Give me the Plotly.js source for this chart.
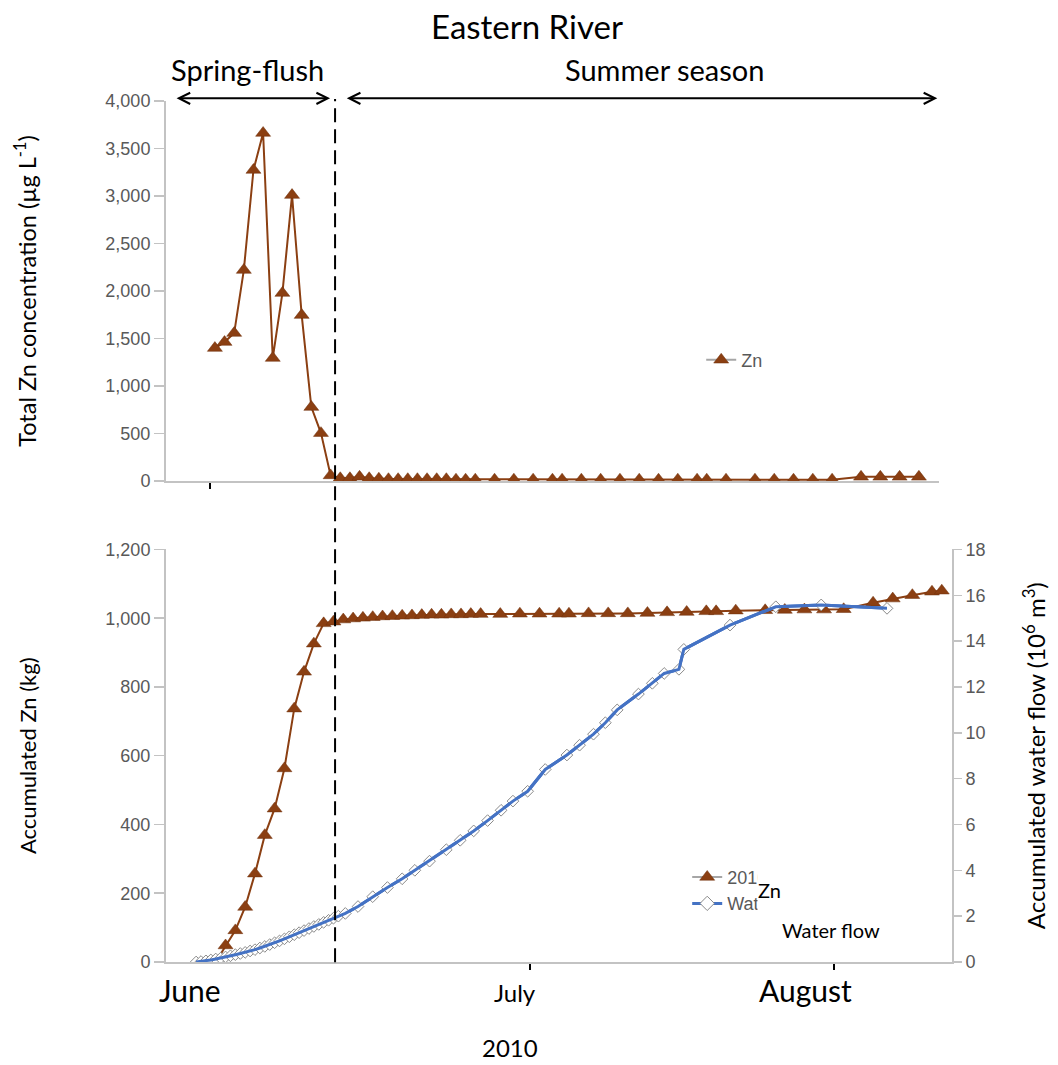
<!DOCTYPE html>
<html>
<head>
<meta charset="utf-8">
<script src="https://cdn.plot.ly/plotly-3.0.1.min.js"></script>
<style>html,body{margin:0;padding:0;background:#fff;}#chart{width:1058px;height:1065px;}</style>
</head>
<body>
<div id="chart"></div>
<script>
// ---------- data ----------
const sampleDates = [
  '2010-05-30','2010-05-31','2010-06-01','2010-06-02','2010-06-03','2010-06-04','2010-06-05',
  '2010-06-06','2010-06-07','2010-06-08','2010-06-09','2010-06-10','2010-06-11',
  '2010-06-12','2010-06-13','2010-06-14','2010-06-15','2010-06-16','2010-06-17','2010-06-18',
  '2010-06-19','2010-06-20','2010-06-21','2010-06-22','2010-06-23','2010-06-24','2010-06-25','2010-06-26',
  '2010-06-28','2010-06-30','2010-07-02','2010-07-04','2010-07-05','2010-07-07','2010-07-09',
  '2010-07-11','2010-07-13','2010-07-15','2010-07-17','2010-07-19','2010-07-20','2010-07-22',
  '2010-07-25','2010-07-27','2010-07-29','2010-07-31','2010-08-02',
  '2010-08-05','2010-08-07','2010-08-09','2010-08-11','2010-08-12'
];
// total Zn concentration (µg/L) – no sample on the last date
const concDates = sampleDates.slice(0, 51);
const znConc = [
  1400,1463,1558,2221,3274,3663,1295,1979,3010,1747,779,505,60,
  30,30,45,30,25,20,20,20,20,20,20,20,15,15,15,
  15,15,15,15,15,15,15,15,15,15,15,15,15,15,15,15,15,15,15,
  45,45,45,45
];
// accumulated Zn (kg)
const znLoad = [
  0,48,92,160,257,369,446,563,737,844,926,985,990,
  996,999,1001,1003,1005,1006,1007,1008,1009,1010,1010,1011,1011,1012,1012,
  1012,1013,1013,1013,1013,1014,1014,1014,1015,1017,1018,1020,1020,1022,1023,1024,1025,1025,1026,
  1045,1057,1067,1077,1080
];
// accumulated water flow (10^6 m3)
const flowDates = [
  '2010-05-28 00:00','2010-05-28 12:00','2010-05-29 00:00','2010-05-29 12:00','2010-05-30 00:00',
  '2010-05-30 12:00','2010-05-31 00:00','2010-05-31 12:00','2010-06-01 00:00','2010-06-01 12:00',
  '2010-06-02 00:00','2010-06-02 12:00','2010-06-03 00:00','2010-06-03 12:00','2010-06-04 00:00',
  '2010-06-04 12:00','2010-06-05 00:00','2010-06-05 12:00','2010-06-06 00:00','2010-06-06 12:00',
  '2010-06-07 00:00','2010-06-07 12:00','2010-06-08 00:00','2010-06-08 12:00','2010-06-09 00:00',
  '2010-06-09 12:00','2010-06-10 00:00','2010-06-10 12:00','2010-06-11 00:00','2010-06-11 12:00',
  '2010-06-12 05:00','2010-06-13 12:00','2010-06-15 00:00','2010-06-16 12:00','2010-06-18 00:00',
  '2010-06-19 07:00','2010-06-20 19:00','2010-06-22 12:00','2010-06-23 22:00','2010-06-25 07:00',
  '2010-06-26 17:00','2010-06-28 02:00','2010-06-29 07:00','2010-06-30 19:00','2010-07-02 14:00',
  '2010-07-04 19:00','2010-07-06 02:00','2010-07-07 12:00','2010-07-08 17:00','2010-07-09 22:00',
  '2010-07-12 02:00','2010-07-13 12:00','2010-07-14 17:00','2010-07-16 05:00','2010-07-16 17:00',
  '2010-07-21 10:00','2010-07-26 02:00','2010-07-30 17:00','2010-08-06 10:00'
];
const waterFlow = [
  0,0.02,0.05,0.09,0.13,0.17,0.22,0.27,0.32,0.37,
  0.42,0.48,0.54,0.61,0.68,0.76,0.84,0.92,1.01,1.10,
  1.19,1.28,1.37,1.46,1.55,1.64,1.73,1.82,1.91,2.00,
  2.12,2.42,2.85,3.25,3.63,4.00,4.40,4.90,5.31,5.72,
  6.17,6.62,7.02,7.45,8.40,9.03,9.46,9.94,10.44,11.00,
  11.69,12.16,12.59,12.77,13.64,14.70,15.50,15.58,15.43
];
const monthLabels = ['June','July','August'];
const yearLabel = '2010';
const topTicks = [0,500,1000,1500,2000,2500,3000,3500,4000];
const periodLabels = ['Spring-flush','Summer season'];

// ---------- styling ----------
const BROWN = '#8B3F12';
const BLUE = '#4472C4';
const AXIS_GRAY = '#c3c3c3';
const TICK_FONT = {family:'Liberation Sans, Arial, sans-serif', size:18, color:'#595959'};
const TXT = 'Lato, sans-serif';
const xRange = ['2010-05-24 22:20','2010-08-13 01:00'];

// plot area geometry (px)
const W = 1058, H = 1065;
const L = 166, R = 951.7, T = 101, B = 961.7;
const px = x => (x - L) / (R - L);
const py = y => (B - y) / (B - T);

const triMarker = {symbol:'triangle-up', size:13, color:BROWN, line:{color:'#6e300c', width:0.5}};

const traces = [
  {x: concDates, y: znConc, xaxis:'x', yaxis:'y', type:'scatter', mode:'lines+markers', name:'Zn',
   showlegend:false, line:{color:BROWN, width:2}, marker:triMarker},
  {x: sampleDates, y: znLoad, xaxis:'x2', yaxis:'y2', type:'scatter', mode:'lines+markers', name:'2010 Zn',
   showlegend:false, line:{color:BROWN, width:2}, marker:triMarker},
  {x: flowDates, y: waterFlow, xaxis:'x2', yaxis:'y3', type:'scatter', mode:'lines+markers', name:'Water flow',
   showlegend:false, line:{color:BLUE, width:3}, marker:{symbol:'diamond', size:9, color:'#ffffff', line:{color:'#8a8a8a', width:1}}},
  // the flow line is drawn again on top of its markers, as in the original
  {x: flowDates, y: waterFlow, xaxis:'x2', yaxis:'y3', type:'scatter', mode:'lines', name:'Water flow line',
   showlegend:false, hoverinfo:'skip', line:{color:BLUE, width:3}},
  // legend keys (grey key line, as in the original legends)
  {x:[null], y:[null], xaxis:'x', yaxis:'y', type:'scatter', mode:'lines+markers', name:'Zn',
   legend:'legend', showlegend:true, line:{color:'#a6a6a6', width:2}, marker:triMarker},
  {x:[null], y:[null], xaxis:'x2', yaxis:'y2', type:'scatter', mode:'lines+markers', name:'2010 Zn',
   legend:'legend2', showlegend:true, line:{color:'#a6a6a6', width:2}, marker:triMarker},
  {x:[null], y:[null], xaxis:'x2', yaxis:'y3', type:'scatter', mode:'lines+markers', name:'Water flow',
   legend:'legend2', showlegend:true, line:{color:BLUE, width:3}, marker:{symbol:'diamond', size:11, color:'#ffffff', line:{color:'#8a8a8a', width:1}}}
];

const axisCommon = {showgrid:false, zeroline:false, showline:true, linecolor:AXIS_GRAY, linewidth:2};

const layout = {
  width: W, height: H,
  showlegend: true,
  margin:{l:L, r:W-R, t:T, b:H-B, pad:0},
  paper_bgcolor:'#fff', plot_bgcolor:'#fff',
  font:{family:TXT, color:'#000'},
  title:{text:'Eastern River', xref:'container', x:527/W, xanchor:'center', yref:'container', y:1-27/H, yanchor:'middle',
         font:{family:TXT, size:33, color:'#000'}},
  xaxis: Object.assign({}, axisCommon, {type:'date', domain:[0,(938.3-L)/(R-L)], anchor:'y', range:xRange,
          tickvals:['2010-05-29 12:00'], ticks:'outside', ticklen:6, tickwidth:2, tickcolor:'#000', showticklabels:false}),
  yaxis: Object.assign({}, axisCommon, {domain:[py(481),1], anchor:'x', range:[0,4000], tickvals:topTicks, tickformat:',',
          ticks:'outside', ticklen:10, tickwidth:1.5, tickcolor:AXIS_GRAY, tickfont:TICK_FONT,
          title:{text:'Total Zn concentration (µg L<sup>-1</sup>)', font:{family:TXT, size:23.5, color:'#000'}, standoff:62}}),
  xaxis2: Object.assign({}, axisCommon, {type:'date', domain:[0,1], anchor:'y2', range:xRange,
          tickvals:['2010-07-01','2010-08-01'], ticks:'outside', ticklen:6, tickwidth:2, tickcolor:'#000', showticklabels:false}),
  yaxis2: Object.assign({}, axisCommon, {domain:[0,py(549.3)], anchor:'x2', range:[0,1200], dtick:200, tickformat:',',
          ticks:'outside', ticklen:10, tickwidth:1.5, tickcolor:AXIS_GRAY, tickfont:TICK_FONT,
          title:{text:'Accumulated Zn (kg)', font:{family:TXT, size:22, color:'#000'}, standoff:63}}),
  yaxis3: Object.assign({}, axisCommon, {overlaying:'y2', side:'right', anchor:'x2', range:[0,18], dtick:2,
          ticks:'outside', ticklen:8, tickwidth:1.5, tickcolor:AXIS_GRAY, tickfont:TICK_FONT,
          title:{text:'Accumulated water flow (10<sup>6</sup> m<sup>3</sup>)', font:{family:TXT, size:24, color:'#000'}, standoff:44}}),
  legend:{x:px(701), xanchor:'left', y:py(360), yanchor:'middle', bgcolor:'rgba(0,0,0,0)', font:TICK_FONT, borderwidth:0},
  legend2:{x:px(687), xanchor:'left', y:py(890), yanchor:'middle', bgcolor:'rgba(0,0,0,0)', font:TICK_FONT, borderwidth:0, tracegroupgap:0},
  shapes:[
    {type:'line', xref:'paper', yref:'paper', x0:px(335), x1:px(335), y0:py(962), y1:py(99), layer:'above',
     line:{color:'#000', width:2, dash:'14px,7px'}}
  ],
  annotations:[
    // period arrows
    {xref:'paper', yref:'paper', x:px(330), y:py(98.3), ax:-(330-175), ay:0, axref:'pixel', ayref:'pixel', text:'',
     showarrow:true, arrowside:'end+start', arrowhead:5, startarrowhead:5, arrowsize:1.1, startarrowsize:1.1, arrowwidth:2, arrowcolor:'#000', standoff:0, startstandoff:0},
    {xref:'paper', yref:'paper', x:px(937), y:py(98.3), ax:-(937-345), ay:0, axref:'pixel', ayref:'pixel', text:'',
     showarrow:true, arrowside:'end+start', arrowhead:5, startarrowhead:5, arrowsize:1.1, startarrowsize:1.1, arrowwidth:2, arrowcolor:'#000', standoff:0, startstandoff:0},
    {xref:'paper', yref:'paper', x:px(247), y:py(70), text:periodLabels[0], showarrow:false, xanchor:'center', yanchor:'middle',
     font:{family:TXT, size:29, color:'#000'}},
    {xref:'paper', yref:'paper', x:px(664), y:py(70), text:periodLabels[1], showarrow:false, xanchor:'center', yanchor:'middle',
     font:{family:TXT, size:29, color:'#000'}},
    // month labels
    {xref:'paper', yref:'paper', x:px(190), y:py(990), text:monthLabels[0], showarrow:false, xanchor:'center', yanchor:'middle',
     font:{family:TXT, size:30, color:'#000'}},
    {xref:'paper', yref:'paper', x:px(515), y:py(992), text:monthLabels[1], showarrow:false, xanchor:'center', yanchor:'middle',
     font:{family:TXT, size:24, color:'#000'}},
    {xref:'paper', yref:'paper', x:px(805), y:py(990), text:monthLabels[2], showarrow:false, xanchor:'center', yanchor:'middle',
     font:{family:TXT, size:30, color:'#000'}},
    {xref:'paper', yref:'paper', x:px(510), y:py(1047), text:yearLabel, showarrow:false, xanchor:'center', yanchor:'middle',
     font:{family:TXT, size:24, color:'#000'}},
    // text box laid over the lower legend
    {xref:'paper', yref:'paper', x:px(757), y:py(890), text:'Zn', showarrow:false, xanchor:'left', yanchor:'middle',
     width:120, height:48, align:'left', valign:'middle', bgcolor:'#ffffff', borderpad:0,
     font:{family:TXT, size:20, color:'#000'}},
    {xref:'paper', yref:'paper', x:px(780), y:py(930), text:'Water flow', showarrow:false, xanchor:'left', yanchor:'middle',
     font:{family:TXT, size:20, color:'#000'}}
  ]
};

Plotly.newPlot('chart', traces, layout, {displayModeBar:false, staticPlot:true});
</script>
</body>
</html>
